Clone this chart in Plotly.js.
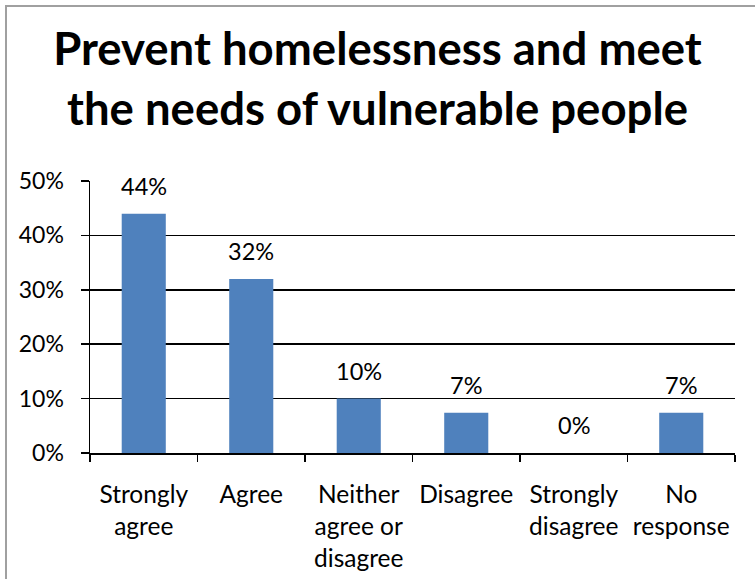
<!DOCTYPE html>
<html><head><meta charset="utf-8">
<script src="https://cdn.plot.ly/plotly-3.0.1.min.js"></script>
<style>
html,body{margin:0;padding:0;background:#fff;overflow:hidden}
#frame{position:absolute;left:5px;top:5px;width:760px;height:600px;border-left:2px solid #a0a0a0;border-top:2px solid #a0a0a0;pointer-events:none;z-index:10}
#chart{position:absolute;left:0;top:0;width:755px;height:579px}
</style></head>
<body>
<div id="chart"></div>
<div id="frame"></div>
<script>
const categories = ["Strongly<br>agree","Agree","Neither<br>agree or<br>disagree","Disagree","Strongly<br>disagree","No<br>response"];
const values = [0.44, 0.32, 0.10, 0.074, 0.0, 0.074];
const valueLabels = ["44%","32%","10%","7%","0%","7%"];
const yTicks = [0, 0.1, 0.2, 0.3, 0.4, 0.5];
const yTickText = ["0%","10%","20%","30%","40%","50%"];
const titleText = "Prevent homelessness and meet<br>the needs of vulnerable people";

const fontFam = "Lato, 'Open Sans', sans-serif";

const trace = {
  type: "bar",
  x: categories,
  y: values,
  marker: {color: "#4F81BD"},
  hoverinfo: "none"
};

const annotations = categories.map((c, i) => ({
  x: c, y: values[i], xref: "x", yref: "y",
  text: valueLabels[i], showarrow: false,
  yanchor: "bottom", yshift: 12,
  font: {family: fontFam, size: 23.5, color: "#000"}
}));

const layout = {
  width: 755, height: 579, autosize: false,
  margin: {l: 90, r: 20, t: 181, b: 126, pad: 0},
  paper_bgcolor: "#fff", plot_bgcolor: "#fff",
  showlegend: false,
  bargap: 0.59,
  title: {
    text: "<b>" + titleText + "</b>",
    font: {family: fontFam, size: 45.5, color: "#000"},
    x: 0.5, xanchor: "center", y: 0.887, yanchor: "middle"
  },
  xaxis: {
    type: "category",
    tickson: "boundaries",
    ticks: "outside", ticklen: 7, tickwidth: 1.5, tickcolor: "#000",
    showline: true, linecolor: "#000", linewidth: 1.5,
    showgrid: false, zeroline: false,
    tickfont: {family: fontFam, size: 24.5, color: "#000"},
    ticklabelstandoff: 19,
    fixedrange: true
  },
  yaxis: {
    range: [0, 0.5],
    tickvals: yTicks, ticktext: yTickText,
    ticks: "outside", ticklen: 8, tickwidth: 1.5, tickcolor: "#000",
    showline: true, linecolor: "#000", linewidth: 1.5,
    showgrid: true, gridcolor: "#000", gridwidth: 1.5,
    zeroline: false,
    tickfont: {family: fontFam, size: 23, color: "#000"},
    ticklabelstandoff: 12,
    fixedrange: true
  },
  annotations: annotations
};

Plotly.newPlot("chart", [trace], layout, {displayModeBar: false, staticPlot: true});
</script>
</body></html>
